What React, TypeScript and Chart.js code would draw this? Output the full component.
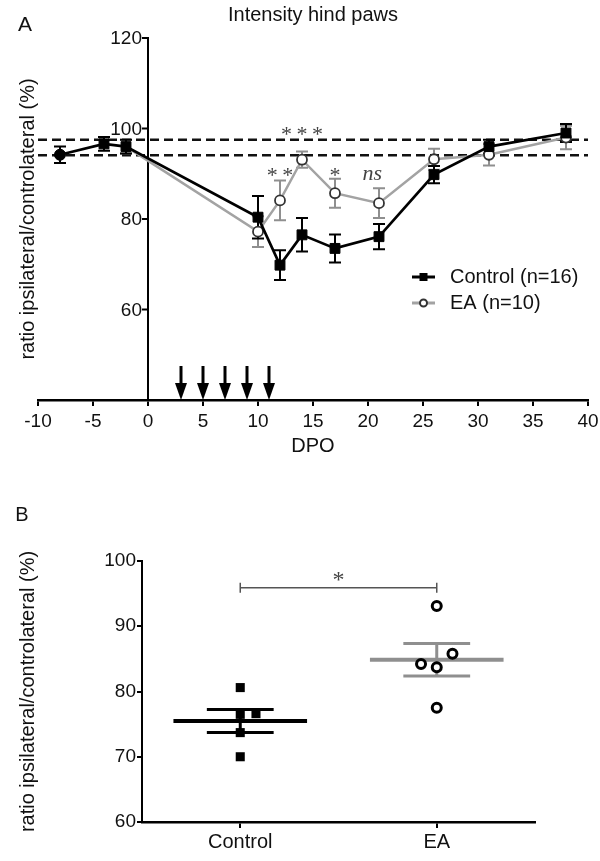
import React, { useEffect, useRef } from 'react';
import { Chart, registerables } from 'chart.js';
Chart.register(...registerables);

// ---------- Panel A data ----------
const controlDays = [-8, -4, -2, 10, 12, 14, 17, 21, 26, 31, 38];
const controlMean = [94.2, 96.6, 96.0, 80.4, 69.8, 76.5, 73.5, 76.1, 89.8, 96.0, 99.0];
const controlSem = [1.8, 1.5, 1.5, 4.7, 3.3, 3.7, 3.1, 2.8, 1.9, 1.5, 2.0];
const eaDays = [-2, 10, 12, 14, 17, 21, 26, 31, 38];
const eaMean = [96.0, 77.2, 84.1, 93.1, 85.7, 83.5, 93.2, 94.2, 98.0];
const eaSem = [1.5, 3.4, 4.4, 1.8, 3.2, 3.3, 2.3, 2.4, 2.6];
const referenceLines = [97.5, 94.1];
const treatmentDays = [3, 5, 7, 9, 11];
const sigLabels = ['**', '***', '*', 'ns'];
const sigDays = [12, 14, 17, 20.4];
const sigValues = [90.6, 99.6, 90.6, 90.0];
const legendLabels = ['Control (n=16)', 'EA (n=10)'];

// ---------- Panel B data ----------
const groups = ['Control', 'EA'];
const controlPoints = [80.6, 76.5, 76.6, 73.7, 70.0];
const controlJitter = [0, 0, 0.08, 0, 0];
const eaPoints = [93.1, 85.8, 84.2, 83.7, 77.5];
const eaJitter = [0, 0.08, -0.08, 0, 0];
const bracketValue = 95.9;
const bracketLabel = '*';

const SANS = '"Liberation Sans", Arial, sans-serif';
const SERIF = '"Liberation Serif", "Times New Roman", serif';
const YLABEL = 'ratio ipsilateral/controlateral (%)';
const GRAY_LINE = '#a3a3a3';
const GRAY_ERR = '#8f8f8f';

function meanSem(v: number[]) {
  const m = v.reduce((a, b) => a + b, 0) / v.length;
  const sd = Math.sqrt(v.reduce((a, b) => a + (b - m) * (b - m), 0) / (v.length - 1));
  return { m, sem: sd / Math.sqrt(v.length) };
}

function drawErr(ctx: any, xs: any, ys: any, xd: number[], yd: number[], sd: number[], color: string) {
  ctx.save();
  ctx.strokeStyle = color;
  ctx.lineWidth = 2;
  for (let i = 0; i < xd.length; i++) {
    const px = xs.getPixelForValue(xd[i]);
    const t = ys.getPixelForValue(yd[i] + sd[i]);
    const b = ys.getPixelForValue(yd[i] - sd[i]);
    ctx.beginPath();
    ctx.moveTo(px, t); ctx.lineTo(px, b);
    ctx.moveTo(px - 6, t); ctx.lineTo(px + 6, t);
    ctx.moveTo(px - 6, b); ctx.lineTo(px + 6, b);
    ctx.stroke();
  }
  ctx.restore();
}

function yLabel(ctx: any, x: number, y: number) {
  ctx.save();
  ctx.translate(x, y);
  ctx.rotate(-Math.PI / 2);
  ctx.font = `20px ${SANS}`;
  ctx.fillStyle = '#111';
  ctx.textAlign = 'center';
  ctx.textBaseline = 'middle';
  ctx.fillText(YLABEL, 0, 0);
  ctx.restore();
}

const panelAPlugin = {
  id: 'panelA',
  beforeDatasetsDraw(chart: any) {
    const { ctx, chartArea, scales } = chart;
    const x = scales.x, y = scales.y;
    ctx.save();
    ctx.strokeStyle = '#111';
    ctx.lineWidth = 2.5;
    ctx.setLineDash([9, 5]);
    referenceLines.forEach((v) => {
      const py = y.getPixelForValue(v);
      ctx.beginPath();
      ctx.moveTo(chartArea.left, py);
      ctx.lineTo(chartArea.right, py);
      ctx.stroke();
    });
    ctx.restore();
    drawErr(ctx, x, y, eaDays, eaMean, eaSem, GRAY_ERR);
    drawErr(ctx, x, y, controlDays, controlMean, controlSem, '#000');
  },
  afterDraw(chart: any) {
    const { ctx, chartArea, scales } = chart;
    const x = scales.x, y = scales.y;
    ctx.save();
    // y ticks (marks + labels) of the axis that stands at x = 0
    const ax = x.getPixelForValue(0);
    ctx.strokeStyle = '#000';
    ctx.lineWidth = 2;
    ctx.fillStyle = '#111';
    ctx.font = `19px ${SANS}`;
    ctx.textAlign = 'right';
    ctx.textBaseline = 'middle';
    y.ticks.forEach((t: any) => {
      if (t.value <= y.min) return;
      const py = y.getPixelForValue(t.value);
      ctx.beginPath();
      ctx.moveTo(ax - 6, py);
      ctx.lineTo(ax, py);
      ctx.stroke();
      ctx.fillText(String(t.value), ax - 6, py + 1);
    });
    // arrows
    ctx.fillStyle = '#000';
    treatmentDays.forEach((d) => {
      const px = x.getPixelForValue(d);
      const bottom = chartArea.bottom;
      ctx.lineWidth = 3;
      ctx.beginPath();
      ctx.moveTo(px, bottom - 34);
      ctx.lineTo(px, bottom - 14);
      ctx.stroke();
      ctx.beginPath();
      ctx.moveTo(px - 6, bottom - 17);
      ctx.lineTo(px + 6, bottom - 17);
      ctx.lineTo(px, bottom);
      ctx.closePath();
      ctx.fill();
    });
    // significance
    ctx.fillStyle = '#444';
    ctx.textAlign = 'center';
    ctx.textBaseline = 'middle';
    sigLabels.forEach((s, i) => {
      const px = x.getPixelForValue(sigDays[i]);
      const py = y.getPixelForValue(sigValues[i]);
      if (s === 'ns') {
        ctx.font = `italic 22px ${SERIF}`;
        ctx.fillText(s, px, py);
      } else {
        ctx.font = `22px ${SERIF}`;
        ctx.fillText(s.split('').join('\u2009'), px, py + 5);
      }
    });
    // titles
    const cx = (chartArea.left + chartArea.right) / 2;
    ctx.fillStyle = '#111';
    ctx.font = `20px ${SANS}`;
    ctx.fillText('Intensity hind paws', cx, 15);
    ctx.fillText('DPO', cx, chartArea.bottom + 46);
    ctx.font = `21px ${SANS}`;
    ctx.fillText('A', 25, 25);
    yLabel(ctx, 28, (chartArea.top + chartArea.bottom) / 2);
    // legend
    const lx0 = 412, lx1 = 435, tx = 450;
    const ly = [277, 303];
    ctx.lineWidth = 3;
    ctx.strokeStyle = '#000';
    ctx.beginPath(); ctx.moveTo(lx0, ly[0]); ctx.lineTo(lx1, ly[0]); ctx.stroke();
    ctx.fillStyle = '#000';
    ctx.fillRect((lx0 + lx1) / 2 - 4, ly[0] - 4, 8, 8);
    ctx.strokeStyle = GRAY_LINE;
    ctx.beginPath(); ctx.moveTo(lx0, ly[1]); ctx.lineTo(lx1, ly[1]); ctx.stroke();
    ctx.fillStyle = '#fff';
    ctx.strokeStyle = '#333';
    ctx.lineWidth = 2;
    ctx.beginPath(); ctx.arc((lx0 + lx1) / 2, ly[1], 3.5, 0, Math.PI * 2); ctx.fill(); ctx.stroke();
    ctx.fillStyle = '#111';
    ctx.font = `20px ${SANS}`;
    ctx.textAlign = 'left';
    legendLabels.forEach((l, i) => ctx.fillText(l, tx, ly[i]));
    ctx.restore();
  },
};

const panelBPlugin = {
  id: 'panelB',
  beforeDatasetsDraw(chart: any) {
    const { ctx, scales } = chart;
    const x = scales.x, y = scales.y;
    const sets = [
      { v: controlPoints, c: '#000' },
      { v: eaPoints, c: GRAY_ERR },
    ];
    ctx.save();
    sets.forEach((s, gi) => {
      const { m, sem } = meanSem(s.v);
      const px = x.getPixelForValue(gi);
      const w = x.getPixelForValue(gi + 0.34) - px;
      const cw = x.getPixelForValue(gi + 0.17) - px;
      const pm = y.getPixelForValue(m);
      const pt = y.getPixelForValue(m + sem);
      const pb = y.getPixelForValue(m - sem);
      ctx.strokeStyle = s.c;
      ctx.lineWidth = 4;
      ctx.beginPath(); ctx.moveTo(px - w, pm); ctx.lineTo(px + w, pm); ctx.stroke();
      ctx.lineWidth = 3;
      ctx.beginPath();
      ctx.moveTo(px - cw, pt); ctx.lineTo(px + cw, pt);
      ctx.moveTo(px - cw, pb); ctx.lineTo(px + cw, pb);
      ctx.moveTo(px, pt); ctx.lineTo(px, pb);
      ctx.stroke();
    });
    ctx.restore();
  },
  afterDraw(chart: any) {
    const { ctx, chartArea, scales } = chart;
    const x = scales.x, y = scales.y;
    ctx.save();
    const x0 = x.getPixelForValue(0), x1 = x.getPixelForValue(1);
    const py = y.getPixelForValue(bracketValue);
    ctx.strokeStyle = '#555';
    ctx.lineWidth = 1.5;
    ctx.beginPath();
    ctx.moveTo(x0, py); ctx.lineTo(x1, py);
    ctx.moveTo(x0, py - 5); ctx.lineTo(x0, py + 5);
    ctx.moveTo(x1, py - 5); ctx.lineTo(x1, py + 5);
    ctx.stroke();
    ctx.fillStyle = '#444';
    ctx.textAlign = 'center';
    ctx.textBaseline = 'middle';
    ctx.font = `24px ${SERIF}`;
    ctx.fillText(bracketLabel, (x0 + x1) / 2, py - 7);
    ctx.fillStyle = '#111';
    ctx.font = `20px ${SANS}`;
    ctx.fillText('B', 22, 45);
    yLabel(ctx, 28, (chartArea.top + chartArea.bottom) / 2);
    ctx.restore();
  },
};

export default function App() {
  const refA = useRef<HTMLCanvasElement>(null);
  const refB = useRef<HTMLCanvasElement>(null);

  useEffect(() => {
    document.body.style.margin = '0';
    const chartA = new Chart(refA.current as HTMLCanvasElement, {
      type: 'line',
      data: {
        datasets: [
          {
            label: legendLabels[0],
            data: controlDays.map((d, i) => ({ x: d, y: controlMean[i] })),
            borderColor: '#000',
            backgroundColor: '#000',
            borderWidth: 2.7,
            pointStyle: controlDays.map((_, i) => (i === 0 ? 'circle' : 'rect')) as any,
            pointRadius: controlDays.map((_, i) => (i === 0 ? 5.5 : 7)),
            pointBorderWidth: 1,
            pointBorderColor: '#000',
            pointBackgroundColor: '#000',
            tension: 0,
          },
          {
            label: legendLabels[1],
            data: eaDays.map((d, i) => ({ x: d, y: eaMean[i] })),
            borderColor: GRAY_LINE,
            backgroundColor: '#fff',
            borderWidth: 2.5,
            pointStyle: 'circle',
            pointRadius: eaDays.map((_, i) => (i === 0 ? 0 : 5)),
            pointBorderWidth: 1.8,
            pointBorderColor: '#333',
            pointBackgroundColor: '#fff',
            tension: 0,
          },
        ],
      },
      options: {
        responsive: false,
        animation: false,
        devicePixelRatio: 1,
        layout: { padding: { left: 38, right: 12, top: 38, bottom: 0 } },
        plugins: { legend: { display: false }, tooltip: { enabled: false }, title: { display: false } },
        scales: {
          x: {
            type: 'linear',
            min: -10,
            max: 40,
            ticks: {
              stepSize: 5,
              font: { family: SANS, size: 19, lineHeight: 1.55 },
              color: '#111',
              padding: 1,
              maxRotation: 0,
            },
            grid: { drawOnChartArea: false, drawTicks: true, tickLength: 6, color: '#000', lineWidth: 2 },
            border: { display: true, color: '#000', width: 2.5 },
            afterFit: (s: any) => { s.height = 70; },
          },
          y: {
            type: 'linear',
            min: 40,
            max: 120,
            position: { x: 0 } as any,
            ticks: { stepSize: 20, display: false },
            grid: { drawOnChartArea: false, drawTicks: false },
            border: { display: true, color: '#000', width: 2 },
          },
        },
      },
      plugins: [panelAPlugin],
    } as any);

    const chartB = new Chart(refB.current as HTMLCanvasElement, {
      type: 'scatter',
      data: {
        datasets: [
          {
            label: groups[0],
            data: controlPoints.map((v, i) => ({ x: 0 + controlJitter[i], y: v })),
            pointStyle: 'rect',
            pointRadius: 6.4,
            pointBorderWidth: 0,
            pointBackgroundColor: '#000',
            pointBorderColor: '#000',
          },
          {
            label: groups[1],
            data: eaPoints.map((v, i) => ({ x: 1 + eaJitter[i], y: v })),
            pointStyle: 'circle',
            pointRadius: 4.5,
            pointBorderWidth: 3,
            pointBackgroundColor: '#fff',
            pointBorderColor: '#000',
          },
        ],
      },
      options: {
        responsive: false,
        animation: false,
        devicePixelRatio: 1,
        layout: { padding: { left: 0, right: 65, top: 91, bottom: 0 } },
        plugins: { legend: { display: false }, tooltip: { enabled: false } },
        scales: {
          x: {
            type: 'linear',
            min: -0.5,
            max: 1.5,
            afterBuildTicks: (s: any) => { s.ticks = groups.map((_, i) => ({ value: i })); },
            ticks: { font: { family: SANS, size: 20 }, color: '#111', padding: 2, callback: (v: any) => groups[Math.round(v)] },
            grid: { drawOnChartArea: false, drawTicks: true, tickLength: 6, color: '#000', lineWidth: 2 },
            border: { display: true, color: '#000', width: 2.5 },
            afterFit: (s: any) => { s.height = 39; },
          },
          y: {
            type: 'linear',
            min: 60,
            max: 100,
            ticks: { stepSize: 10, font: { family: SANS, size: 19 }, color: '#111', padding: 1 },
            grid: { drawOnChartArea: false, drawTicks: true, tickLength: 5, color: '#000', lineWidth: 2 },
            border: { display: true, color: '#000', width: 2 },
            afterFit: (s: any) => { s.width = 142; },
          },
        },
      },
      plugins: [panelBPlugin],
    } as any);

    return () => {
      chartA.destroy();
      chartB.destroy();
    };
  }, []);

  return (
    <div style={{ width: 600, height: 861, position: 'relative', background: '#fff' }}>
      <canvas ref={refA} width={600} height={470} style={{ position: 'absolute', left: 0, top: 0 }} />
      <canvas ref={refB} width={600} height={391} style={{ position: 'absolute', left: 0, top: 470 }} />
    </div>
  );
}
